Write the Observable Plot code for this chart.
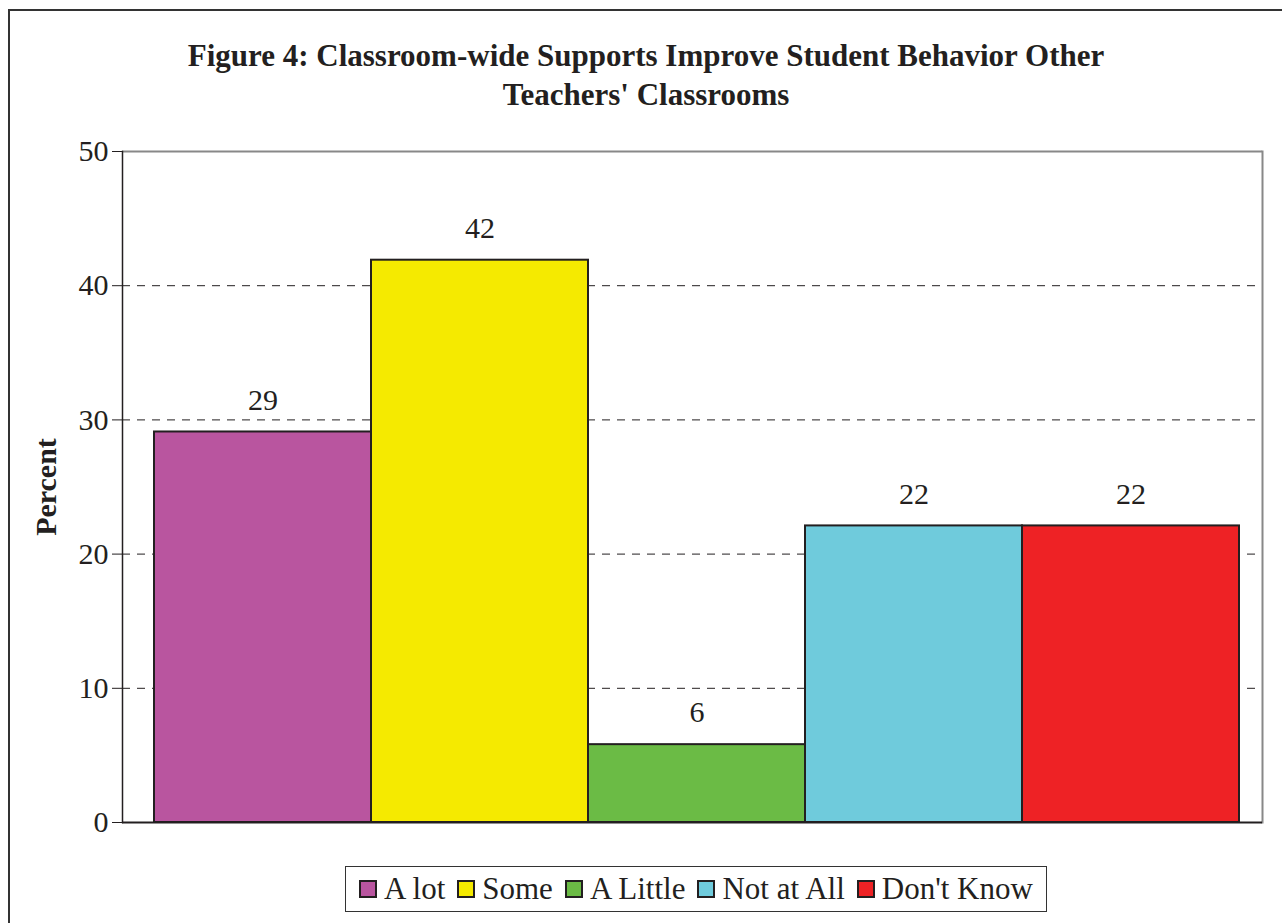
<!DOCTYPE html>
<html><head><meta charset="utf-8">
<script src="https://cdn.jsdelivr.net/npm/d3@7"></script>
<script src="https://cdn.jsdelivr.net/npm/@observablehq/plot@0.6"></script>
<style>
body{margin:0;background:#fff;}
#wrap{position:relative;width:1282px;height:923px;overflow:hidden;font-family:"Liberation Serif","Times New Roman",serif;color:#231f20;}
#border{position:absolute;left:8px;top:9px;width:1290px;height:940px;border:2px solid #333;}
#title{position:absolute;left:0;width:1292px;top:36px;text-align:center;font-weight:bold;font-size:31px;line-height:39px;}
#ylabel{position:absolute;left:46px;top:487px;transform:translate(-50%,-50%) rotate(-90deg);font-weight:bold;font-size:30px;white-space:nowrap;}
#legend{position:absolute;left:345px;top:866px;width:700px;height:44px;border:1.5px solid #333;display:flex;align-items:center;justify-content:center;font-size:31px;background:#fff;white-space:nowrap;}
.item{display:flex;align-items:center;margin:0 12px 0 0;flex-shrink:0;white-space:nowrap;}
.item:last-child{margin-right:0;}
.sw{width:14px;height:14px;border:2px solid #231f20;margin-right:7px;flex-shrink:0;}
#chart{position:absolute;left:0;top:0;}
</style></head>
<body>
<div id="wrap">
  <div id="border"></div>
  <div id="chart"></div>
  <div id="title">Figure 4: Classroom-wide Supports Improve Student Behavior Other<br>Teachers' Classrooms</div>
  <div id="ylabel">Percent</div>
  <div id="legend"></div>
</div>
<script>
const categories = ["A lot", "Some", "A Little", "Not at All", "Don't Know"];
const values = [29.1, 41.9, 5.8, 22.1, 22.1];
const valueLabels = ["29", "42", "6", "22", "22"];
const colors = ["#B9559F", "#F5EA00", "#6BBB45", "#6FCBDC", "#EE2225"];
const yTicks = [0, 10, 20, 30, 40, 50];

const data = categories.map((c, i) => ({cat: c, value: values[i], label: valueLabels[i]}));

const chart = Plot.plot({
  width: 1282, height: 923,
  marginTop: 151, marginBottom: 101, marginLeft: 122, marginRight: 20,
  style: {fontFamily: "'Liberation Serif','Times New Roman',serif", fontSize: "30px", color: "#231f20", background: "transparent"},
  x: {domain: categories, range: [153, 1240], padding: 0, axis: null},
  y: {domain: [0, 50], axis: null},
  color: {domain: categories, range: colors},
  marks: [
    Plot.ruleY(yTicks.filter(t => t > 0 && t < 50), {stroke: "#231f20", strokeWidth: 1, strokeDasharray: "8,7"}),
    Plot.ruleY([50], {stroke: "#888", strokeWidth: 2}),
    Plot.frame({anchor: "right", stroke: "#888", strokeWidth: 2}),
    Plot.barY(data, {x: "cat", y: "value", fill: "cat", stroke: "#231f20", strokeWidth: 2}),
    Plot.text(data, {x: "cat", y: "value", text: "label", dy: -32, fontSize: 30, fill: "#231f20"}),
    Plot.axisY({ticks: yTicks, tickSize: 10, tickPadding: 4, label: null, fontSize: 30, stroke: "#231f20"}),
    Plot.frame({anchor: "left", stroke: "#231f20", strokeWidth: 1.5}),
    Plot.ruleY([0], {stroke: "#231f20", strokeWidth: 2})
  ]
});
document.getElementById("chart").appendChild(chart);

const legend = document.getElementById("legend");
categories.forEach((c, i) => {
  const it = document.createElement("div");
  it.className = "item";
  const sw = document.createElement("div");
  sw.className = "sw";
  sw.style.background = colors[i];
  const t = document.createElement("span");
  t.textContent = c;
  it.appendChild(sw); it.appendChild(t);
  legend.appendChild(it);
});
</script>
</body></html>
